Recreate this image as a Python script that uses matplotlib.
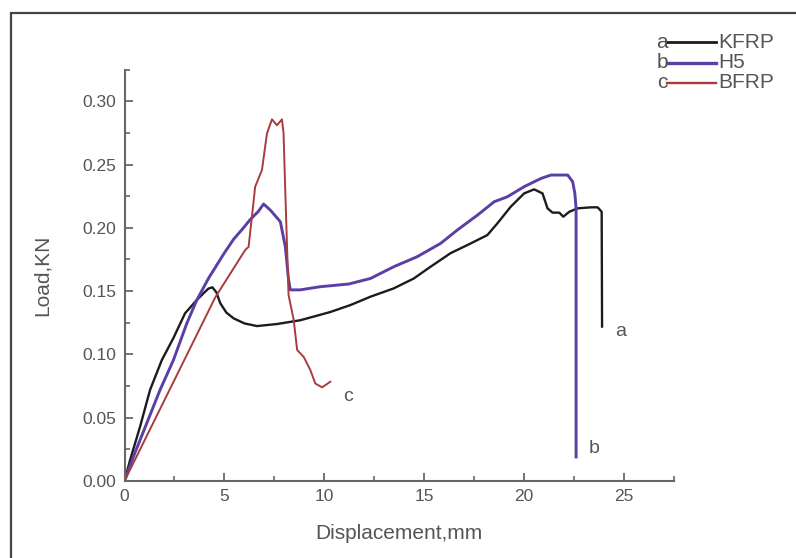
import matplotlib
matplotlib.use("Agg")
import matplotlib.pyplot as plt
from matplotlib.lines import Line2D
from matplotlib.patches import Rectangle
from matplotlib.ticker import MultipleLocator

plt.rcParams["font.family"] = ["Liberation Sans", "DejaVu Sans"]

# Load–displacement records
kfrp_x = [0, 0.28, 0.78, 1.28, 1.87, 2.45, 3.03, 3.62, 4.0, 4.2, 4.4, 4.6, 4.79,
          5.1, 5.46, 6.0, 6.63, 7.63, 8.8, 9.03, 10.3, 11.31, 12.31, 13.48, 14.48,
          15.32, 16.32, 17.33, 18.16, 18.66, 19.33, 20.0, 20.5, 20.92, 21.17,
          21.42, 21.76, 21.96, 22.26, 22.68, 23.35, 23.68, 23.88, 23.9]
kfrp_y = [0, 0.0166, 0.043, 0.072, 0.0956, 0.113, 0.1325, 0.143, 0.149, 0.152,
          0.153, 0.149, 0.1405, 0.133, 0.1285, 0.1245, 0.1224, 0.124, 0.127,
          0.128, 0.1335, 0.139, 0.1456, 0.1522, 0.160, 0.1693, 0.180, 0.1877,
          0.1943, 0.2035, 0.2167, 0.2272, 0.2304, 0.2272, 0.2154, 0.212, 0.212,
          0.2088, 0.2127, 0.2154, 0.2162, 0.2162, 0.2127, 0.122]

h5_x = [0, 0.44, 1.11, 1.78, 2.45, 3.12, 3.62, 4.2, 4.95, 5.46, 5.9, 6.29, 6.7,
        6.96, 7.3, 7.8, 8.05, 8.21, 8.3, 8.8, 9.8, 11.22, 12.31, 13.48, 14.65,
        15.82, 16.66, 17.66, 18.5, 19.17, 20.0, 20.84, 21.34, 22.18, 22.43,
        22.54, 22.6, 22.6]
h5_y = [0, 0.019, 0.0455, 0.072, 0.0956, 0.1246, 0.143, 0.160, 0.179, 0.191,
        0.199, 0.2065, 0.213, 0.2188, 0.214, 0.2048, 0.185, 0.159, 0.151, 0.151,
        0.1535, 0.1556, 0.160, 0.1693, 0.1772, 0.1877, 0.1983, 0.210, 0.2206,
        0.2246, 0.2325, 0.239, 0.2417, 0.2417, 0.2364, 0.227, 0.215, 0.019]

bfrp_x = [0, 4.54, 6.04, 6.21, 6.54, 6.88, 7.13, 7.38, 7.63, 7.88, 7.96, 8.05,
          8.21, 8.47, 8.64, 8.97, 9.30, 9.55, 9.89, 10.30]
bfrp_y = [0, 0.145, 0.1825, 0.185, 0.2325, 0.2457, 0.2746, 0.2857, 0.281,
          0.2857, 0.2746, 0.2275, 0.147, 0.127, 0.1035, 0.098, 0.0877, 0.077,
          0.074, 0.0784]

series_names = ["KFRP", "H5", "BFRP"]
series_tags = ["a", "b", "c"]
colors = ["#1c1c1c", "#5b3ea6", "#a83c3c"]
widths = [1.7, 2.1, 1.4]

x_ticks = [0, 5, 10, 15, 20, 25]
y_ticks = [0.00, 0.05, 0.10, 0.15, 0.20, 0.25, 0.30]

W, H = 796, 558
fig = plt.figure(figsize=(W / 100, H / 100), dpi=100)
ax = fig.add_axes([124.5 / W, 1 - 481 / H, (674 - 124.5) / W, (481 - 69.6) / H])

axis_col = "#6e6464"
text_col = "#555555"

for xs, ys, c, lw in zip([kfrp_x, h5_x, bfrp_x], [kfrp_y, h5_y, bfrp_y], colors, widths):
    ax.plot(xs, ys, color=c, lw=lw, solid_joinstyle="round")

ax.set_xlim(0, 27.5)
ax.set_ylim(0, 0.325)
ax.set_xticks(x_ticks)
ax.set_yticks(y_ticks)
ax.set_yticklabels([f"{v:.2f}" for v in y_ticks])
ax.xaxis.set_minor_locator(MultipleLocator(2.5))
ax.yaxis.set_minor_locator(MultipleLocator(0.025))

for s in ["top", "right"]:
    ax.spines[s].set_visible(False)
for s in ["bottom", "left"]:
    ax.spines[s].set_color(axis_col)
    ax.spines[s].set_linewidth(1.5)

ax.tick_params(which="major", direction="in", length=6, width=1.3, color=axis_col,
               labelsize=12.5, labelcolor=text_col, pad=6)
ax.tick_params(which="minor", direction="in", length=3.5, width=1.2, color=axis_col)

ax.set_xlabel("Displacement,mm", fontsize=15, color=text_col, labelpad=14)
ax.set_ylabel("Load,KN", fontsize=15, color=text_col, labelpad=22)

# Curve tags
ax.text(24.85, 0.118, "a", fontsize=14, color=text_col, ha="center", va="center")
ax.text(23.5, 0.026, "b", fontsize=14, color=text_col, ha="center", va="center")
ax.text(11.2, 0.067, "c", fontsize=14, color=text_col, ha="center", va="center")

# Key in the upper right corner
rows_y = [42, 63, 83]
for tag, name, c, lw, ry in zip(series_tags, series_names, colors, widths, rows_y):
    yf = 1 - ry / H
    fig.text(662 / W, yf, tag, fontsize=15, color=text_col, ha="center", va="center")
    fig.add_artist(Line2D([667 / W, 716 / W], [yf, yf], color=c, lw=lw + 0.3,
                          transform=fig.transFigure))
    fig.text(718 / W, yf, name, fontsize=15, color=text_col, ha="left", va="center")

# Outer frame
fig.add_artist(Rectangle((11 / W, -0.05), 1.0, 1 - 13 / H + 0.05, fill=False,
                         edgecolor="#444444", lw=1.6, transform=fig.transFigure))

fig.savefig("out.png", dpi=100)
